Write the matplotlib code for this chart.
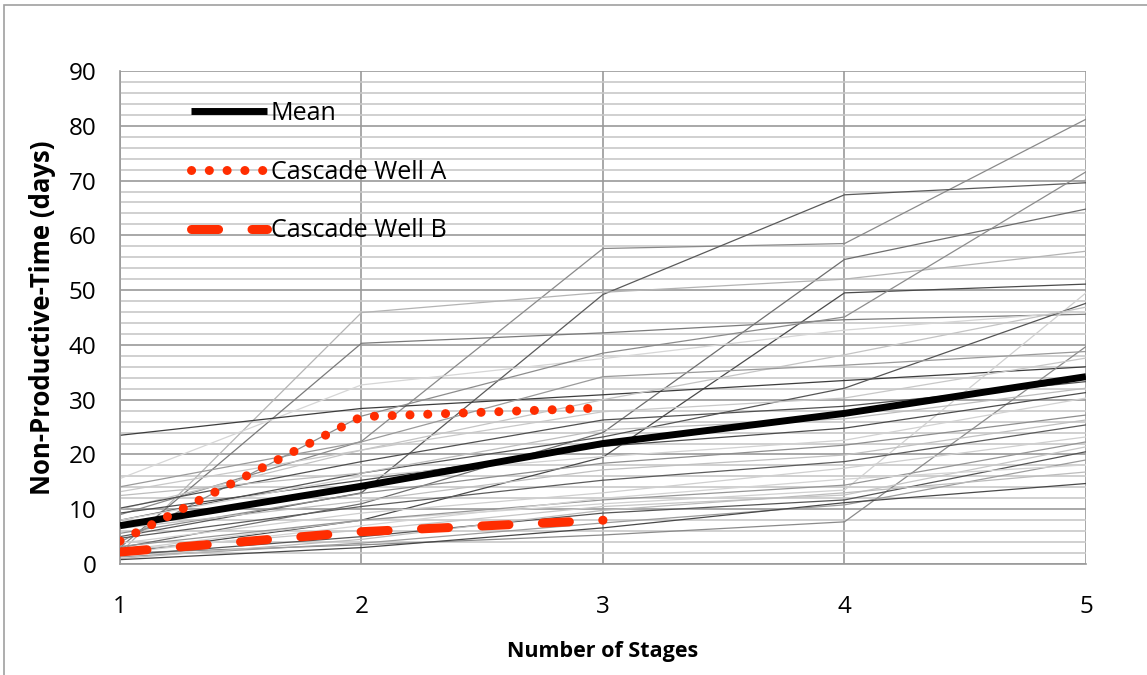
"""Non-productive time versus number of stages, with the fleet mean and two cascade wells."""

import matplotlib.pyplot as plt
from matplotlib.patches import Rectangle

plt.rcParams["font.family"] = ["Open Sans", "DejaVu Sans"]

STAGES = [1, 2, 3, 4, 5]

# Individual wells, NPT (days) at each stage
WELL_NPT = [
    [9.0, 22.4, 57.6, 58.5, 81.2],
    [5.0, 13.0, 49.2, 67.4, 69.6],
    [3.0, 11.0, 24.0, 55.6, 64.8],
    [2.0, 8.0, 19.5, 49.5, 51.1],
    [2.0, 45.9, 49.6, 52.0, 57.1],
    [3.0, 40.3, 42.2, 44.6, 45.6],
    [15.6, 32.7, 37.5, 42.7, 46.1],
    [23.5, 28.4, 30.9, 33.5, 36.0],
    [4.0, 27.0, 38.5, 45.1, 71.6],
    [2.0, 3.5, 5.3, 7.7, 39.7],
    [2.5, 8.0, 11.0, 13.5, 49.5],
    [8.0, 16.6, 23.2, 32.1, 47.6],
    [10.0, 20.8, 30.0, 38.2, 46.9],
    [14.1, 22.3, 34.2, 36.3, 38.8],
    [13.2, 20.8, 27.8, 30.3, 37.6],
    [10.2, 18.7, 26.3, 28.8, 33.3],
    [12.5, 16.6, 24.5, 26.5, 32.1],
    [9.3, 15.3, 21.5, 24.8, 31.3],
    [8.0, 16.0, 19.6, 22.6, 30.3],
    [5.6, 12.9, 18.4, 21.7, 27.2],
    [6.5, 11.5, 17.2, 19.9, 26.3],
    [4.7, 10.5, 15.3, 18.7, 25.4],
    [3.8, 9.3, 13.0, 17.5, 23.2],
    [3.2, 8.0, 11.7, 14.4, 22.3],
    [2.5, 6.2, 10.5, 12.6, 21.4],
    [1.6, 5.0, 9.3, 11.7, 20.5],
    [1.3, 3.8, 7.5, 10.8, 19.0],
    [2.0, 7.0, 12.0, 15.5, 18.1],
    [1.0, 4.5, 9.8, 13.0, 16.8],
    [0.8, 3.0, 6.6, 11.2, 14.7],
]
LINE_SHADES = [
    "#8a8a8a", "#5a5a5a", "#6e6e6e", "#4a4a4a", "#b4b4b4", "#7a7a7a",
    "#d6d6d6", "#3c3c3c", "#8c8c8c", "#8a8a8a", "#d0d0d0", "#555555",
    "#c4c4c4", "#9a9a9a", "#c8c8c8", "#505050", "#bdbdbd", "#4c4c4c",
    "#d2d2d2", "#8e8e8e", "#c0c0c0", "#5c5c5c", "#cfcfcf", "#969696",
    "#c6c6c6", "#555555", "#9c9c9c", "#d4d4d4", "#bcbcbc", "#484848",
]

MEAN_NPT = [7.0, 14.2, 22.0, 27.5, 34.2]

CASCADE_STAGES = [1, 2, 3]
CASCADE_A_NPT = [4.2, 26.9, 28.5]
CASCADE_B_NPT = [2.2, 5.9, 8.0]

RED = "#ff2d00"

fig = plt.figure(figsize=(11.47, 6.75), dpi=100)
ax = fig.add_axes([0.1046, 0.1644, 0.8422, 0.7304])

# light frame around the chart area
fig.patches.append(Rectangle((3.5 / 1147, -0.05), 1.2, 1.0 - 5 / 675 + 0.05,
                             transform=fig.transFigure, fill=False,
                             edgecolor="#a0a0a0", linewidth=1.2))

for values, shade in zip(WELL_NPT, LINE_SHADES):
    ax.plot(STAGES, values, color=shade, linewidth=0.9, zorder=2)

ax.plot(STAGES, MEAN_NPT, color="black", linewidth=5.0,
        solid_capstyle="butt", label="Mean", zorder=4)
ax.plot(CASCADE_STAGES, CASCADE_A_NPT, color=RED, linewidth=6.5,
        linestyle=(0, (0.01, 1.96)), dash_capstyle="round",
        label="Cascade Well A", zorder=5)
ax.plot(CASCADE_STAGES, CASCADE_B_NPT, color=RED, linewidth=6.5,
        linestyle=(0, (3.0, 3.7)), dash_capstyle="round",
        label="Cascade Well B", zorder=5)

ax.set_xlim(1, 5)
ax.set_ylim(0, 90)
ax.set_xticks(STAGES)
ax.set_yticks(range(0, 91, 10))
ax.set_yticks(range(0, 91, 2), minor=True)
ax.tick_params(axis="both", which="both", length=0, labelsize=17.5)
ax.tick_params(axis="x", pad=22)
ax.tick_params(axis="y", pad=17)

ax.grid(which="minor", axis="y", color="#c8c8c8", linewidth=1.2, zorder=0)
ax.grid(which="major", axis="y", color="#9a9a9a", linewidth=1.2, zorder=1)
ax.grid(which="major", axis="x", color="#9a9a9a", linewidth=1.2, zorder=1)
ax.set_axisbelow(True)
for side in ("top", "right"):
    ax.spines[side].set_visible(False)
for side in ("left", "bottom"):
    ax.spines[side].set_color("#9a9a9a")
    ax.spines[side].set_linewidth(1.2)

ax.set_xlabel("Number of Stages", fontsize=15.5, fontweight="bold", labelpad=16)
ax.set_ylabel("Non-Productive-Time (days)", fontsize=18.5, fontweight="bold", labelpad=9)

ax.legend(loc="upper left", bbox_to_anchor=(0.05, 0.985), frameon=False,
          fontsize=18, handlelength=3.05, handletextpad=0.15, labelspacing=1.35)

fig.savefig("out.png", dpi=100)
plt.close(fig)
